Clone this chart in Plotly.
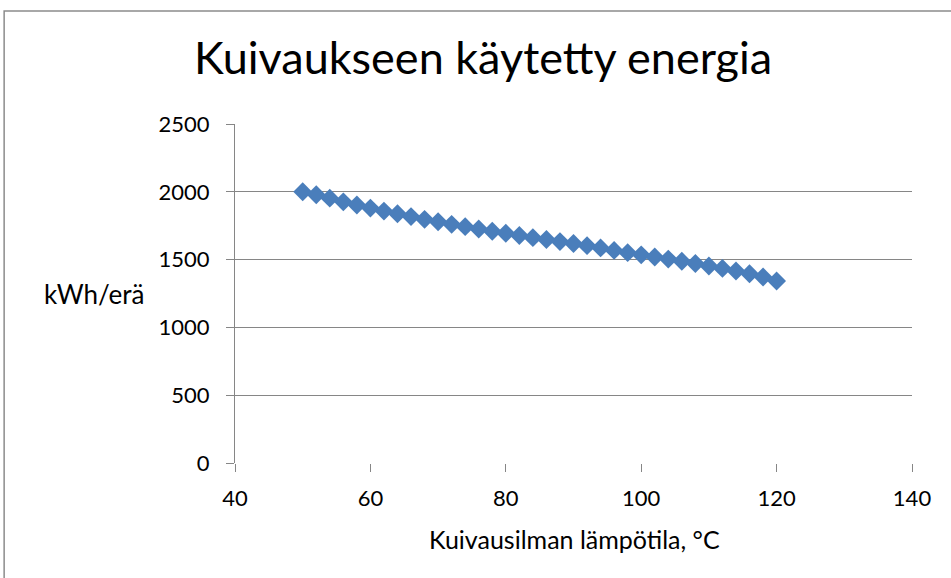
"""Kuivaukseen käytetty energia: drying energy vs. drying air temperature."""

import plotly.graph_objects as go

# drying air temperature, °C
temps = [50, 52, 54, 56, 58, 60, 62, 64, 66, 68, 70, 72, 74, 76, 78, 80, 82, 84,
         86, 88, 90, 92, 94, 96, 98, 100, 102, 104, 106, 108, 110, 112, 114, 116, 118, 120]
# energy per batch, kWh/erä
energy = [2000, 1978, 1953, 1926, 1903, 1880, 1858, 1838, 1817, 1797, 1779, 1760,
          1743, 1726, 1709, 1694, 1678, 1662, 1648, 1633, 1619, 1603, 1586, 1568,
          1551, 1535, 1519, 1504, 1488, 1471, 1453, 1435, 1416, 1396, 1372, 1342]

x_ticks = [40, 60, 80, 100, 120, 140]
y_ticks = [0, 500, 1000, 1500, 2000, 2500]

FONT = "Lato, Carlito, Calibri, sans-serif"
GRID = "#868686"

fig = go.Figure()
fig.add_trace(go.Scatter(
    x=temps, y=energy, mode="markers", name="Energia",
    marker=dict(symbol="diamond", size=14.5, color="#4A7EBB", line=dict(width=0)),
    cliponaxis=False,
))

fig.update_xaxes(
    range=[40, 140], tickvals=x_ticks, showgrid=False, zeroline=False,
    showline=False, ticks="outside", ticklen=8, tickwidth=1.3, tickcolor=GRID,
    ticklabelstandoff=8,
    tickfont=dict(family=FONT, size=22, color="#000"),
)
fig.update_yaxes(
    range=[0, 2500], tickvals=y_ticks, showgrid=True, gridcolor=GRID, gridwidth=1.3,
    zeroline=False, showline=True, linecolor=GRID, linewidth=1.3,
    ticks="outside", ticklen=8, tickwidth=1.3, tickcolor=GRID,
    ticklabelstandoff=12,
    tickfont=dict(family=FONT, size=22, color="#000"),
)

# chart border (Excel-style frame, cut off at right and bottom)
fig.add_shape(type="rect", xref="paper", yref="paper",
              x0=-0.341, x1=1.2, y0=-0.5, y1=1.333,
              line=dict(color="#8c8c8c", width=1.5), layer="below")

fig.update_layout(
    width=951, height=578,
    margin=dict(l=235, r=39, t=124, b=115, autoexpand=False),
    paper_bgcolor="white", plot_bgcolor="white", showlegend=False,
    font=dict(family=FONT, color="#000"),
    title=dict(text="Kuivaukseen käytetty energia", x=0.508, xanchor="center",
               y=0.9, yanchor="middle", font=dict(family=FONT, size=45, color="#000")),
    annotations=[
        dict(text="kWh/erä", xref="paper", yref="paper", x=-0.208, y=0.5,
             xanchor="center", yanchor="middle",
             showarrow=False, font=dict(family=FONT, size=26)),
        dict(text="Kuivausilman lämpötila, °C", xref="paper", yref="paper",
             x=0.501, y=-0.225, xanchor="center", yanchor="middle",
             showarrow=False, font=dict(family=FONT, size=25)),
    ],
)

fig.write_html("out.html", config={"displayModeBar": False},
               post_script="document.body.style.margin='0';")
